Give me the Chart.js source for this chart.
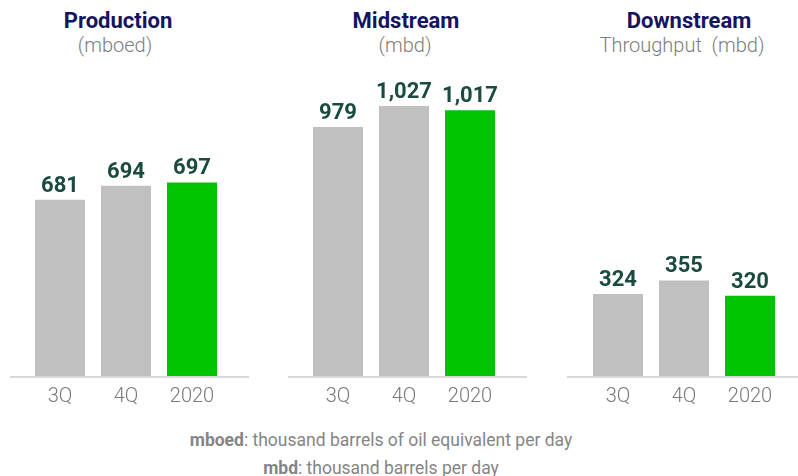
<!DOCTYPE html>
<html>
<head>
<meta charset="utf-8">
<script src="https://cdn.jsdelivr.net/npm/chart.js@4.4.0/dist/chart.umd.min.js"></script>
<style>
  html, body { margin:0; padding:0; background:#fff; }
  body { width:798px; height:476px; position:relative; overflow:hidden; font-family: Roboto, "Open Sans", sans-serif; }
  .cv { position:absolute; top:60px; }
  .title { position:absolute; text-align:center; color:#15145e; font-weight:700; font-size:22px; line-height:26px; white-space:nowrap; }
  .sub { position:absolute; text-align:center; color:#7d7d7d; font-weight:300; font-size:20px; line-height:24px; white-space:nowrap; }
  .foot { position:absolute; left:0; width:762px; text-align:center; color:#858585; font-size:17.5px; line-height:20px; white-space:nowrap; }
  .foot b { font-weight:700; }
</style>
</head>
<body>
<div class="title" style="left:18px;width:200px;top:8px;">Production</div>
<div class="sub" style="left:15px;width:200px;top:33px;">(mboed)</div>
<div class="title" style="left:306px;width:200px;top:8px;">Midstream</div>
<div class="sub" style="left:305px;width:200px;top:33px;">(mbd)</div>
<div class="title" style="left:589px;width:200px;top:8px;">Downstream</div>
<div class="sub" style="left:582px;width:200px;top:33px;">Throughput&nbsp; (mbd)</div>

<canvas id="c1" class="cv" style="left:10px;"></canvas>
<canvas id="c2" class="cv" style="left:288px;"></canvas>
<canvas id="c3" class="cv" style="left:567px;"></canvas>

<div class="foot" style="top:430px;"><b>mboed</b>: thousand barrels of oil equivalent per day</div>
<div class="foot" style="top:458px;"><b>mbd</b>: thousand barrels per day</div>

<script>
// ---- data ----
const categories = ["3Q", "4Q", "2020"];
const productionValues = [681, 694, 697];
const midstreamValues = [979, 1027, 1017];
const downstreamValues = [324, 355, 320];

const GREY = "#c0c0c0";
const GREEN = "#00c400";
const barColors = [GREY, GREY, GREEN];

// draws value labels above bars and the extended baseline
const decor = {
  id: "decor",
  afterDatasetsDraw(chart) {
    const ctx = chart.ctx;
    const area = chart.chartArea;
    ctx.save();
    ctx.strokeStyle = "#d9d9d9";
    ctx.lineWidth = 2;
    ctx.beginPath();
    ctx.moveTo(0, area.bottom + 1);
    ctx.lineTo(chart.width, area.bottom + 1);
    ctx.stroke();
    const meta = chart.getDatasetMeta(0);
    ctx.fillStyle = "#1b4a40";
    ctx.font = "700 22px Roboto, sans-serif";
    ctx.textAlign = "center";
    ctx.textBaseline = "alphabetic";
    meta.data.forEach((bar, i) => {
      const v = chart.data.datasets[0].data[i];
      ctx.fillText(v.toLocaleString("en-US"), bar.x, bar.y - 8);
    });
    ctx.restore();
  }
};

function makeChart(id, width, values, yMin, yMax, padL, padR) {
  const cv = document.getElementById(id);
  const h = 370;
  cv.width = width; cv.height = h;
  cv.style.width = width + "px"; cv.style.height = h + "px";
  return new Chart(cv, {
    type: "bar",
    data: {
      labels: categories,
      datasets: [{
        data: values,
        backgroundColor: barColors,
        borderWidth: 0,
        categoryPercentage: 1.0,
        barPercentage: 0.758
      }]
    },
    options: {
      responsive: false,
      animation: false,
      devicePixelRatio: 1,
      layout: { padding: { left: padL, right: padR, top: 0, bottom: 12 } },
      plugins: { legend: { display: false }, tooltip: { enabled: false } },
      scales: {
        x: {
          grid: { display: false, drawTicks: false },
          border: { display: false },
          ticks: { color: "#7a7a7a", font: { family: "Roboto", size: 20, weight: "300" }, padding: 9 }
        },
        y: { display: false, min: yMin, max: yMax }
      }
    },
    plugins: [decor]
  });
}

makeChart("c1", 239, productionValues, 518.6, 809.8, 17, 24);
makeChart("c2", 239, midstreamValues, 415.4, 1131, 17, 24);
makeChart("c3", 231, downstreamValues, 135.8, 860.6, 18, 15);
</script>
</body>
</html>
